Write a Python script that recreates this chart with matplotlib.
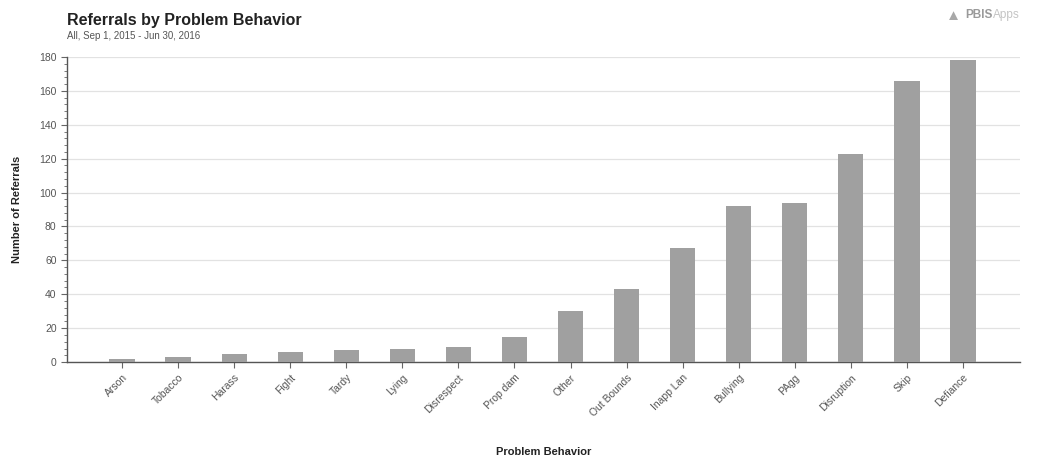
import matplotlib
matplotlib.use("Agg")
import matplotlib.pyplot as plt
import numpy as np
from matplotlib.ticker import MultipleLocator

behaviors = ["Arson", "Tobacco", "Harass", "Fight", "Tardy", "Lying", "Disrespect",
             "Prop dam", "Other", "Out Bounds", "Inapp Lan", "Bullying", "PAgg",
             "Disruption", "Skip", "Defiance"]
referrals = [2, 3, 5, 6, 7, 8, 9, 15, 30, 43, 67, 92, 94, 123, 166, 178]
yticks = [0, 20, 40, 60, 80, 100, 120, 140, 160, 180]

plt.rcParams['font.family'] = ['Liberation Sans', 'DejaVu Sans']

fig = plt.figure(figsize=(10.41, 4.63), dpi=100)
ax = fig.add_axes([0.0644, 0.218, 0.9156, 0.659])

x = np.arange(len(behaviors))
ax.bar(x, referrals, width=0.45, color='#a0a0a0', zorder=3)

ax.set_xlim(-0.98, len(behaviors) - 1 + 1.02)
ax.set_ylim(0, 180)
ax.set_yticks(yticks)
ax.yaxis.set_minor_locator(MultipleLocator(4))
ax.grid(axis='y', color='#e2e2e2', linewidth=0.9, zorder=0)

ax.set_xticks(x)
ax.set_xticklabels(behaviors, rotation=45, ha='right', rotation_mode='anchor',
                   fontsize=7.5, color='#555555')
ax.tick_params(axis='y', labelsize=7.5, labelcolor='#555555', color='#666666',
               length=4, width=0.8)
ax.tick_params(axis='y', which='minor', length=2, color='#666666')
ax.tick_params(axis='x', color='#666666', length=4, width=0.8)

for s in ['top', 'right']:
    ax.spines[s].set_visible(False)
for s in ['left', 'bottom']:
    ax.spines[s].set_color('#555555')
    ax.spines[s].set_linewidth(1.0)

ax.set_ylabel('Number of Referrals', fontsize=8, fontweight='bold', color='#222222',
              labelpad=12)
fig.text(0.522, 0.012, 'Problem Behavior', fontsize=8, fontweight='bold',
         color='#222222', ha='center', va='bottom')

fig.text(0.0644, 0.94, 'Referrals by Problem Behavior', fontsize=11.5,
         fontweight='bold', color='#222222', ha='left', va='bottom')
fig.text(0.0644, 0.912, 'All, Sep 1, 2015 - Jun 30, 2016', fontsize=7,
         color='#555555', ha='left', va='bottom')

fig.text(0.927, 0.968, 'PBIS', fontsize=8.5, fontweight='bold', color='#9a9a9a',
         ha='left', va='center')
fig.text(0.954, 0.968, 'Apps', fontsize=8.5, color='#c4c4c4', ha='left', va='center')
fig.text(0.909, 0.965, '\u25B2', fontsize=11, color='#a8a8a8', ha='left', va='center')

fig.savefig('out.png', dpi=100)
